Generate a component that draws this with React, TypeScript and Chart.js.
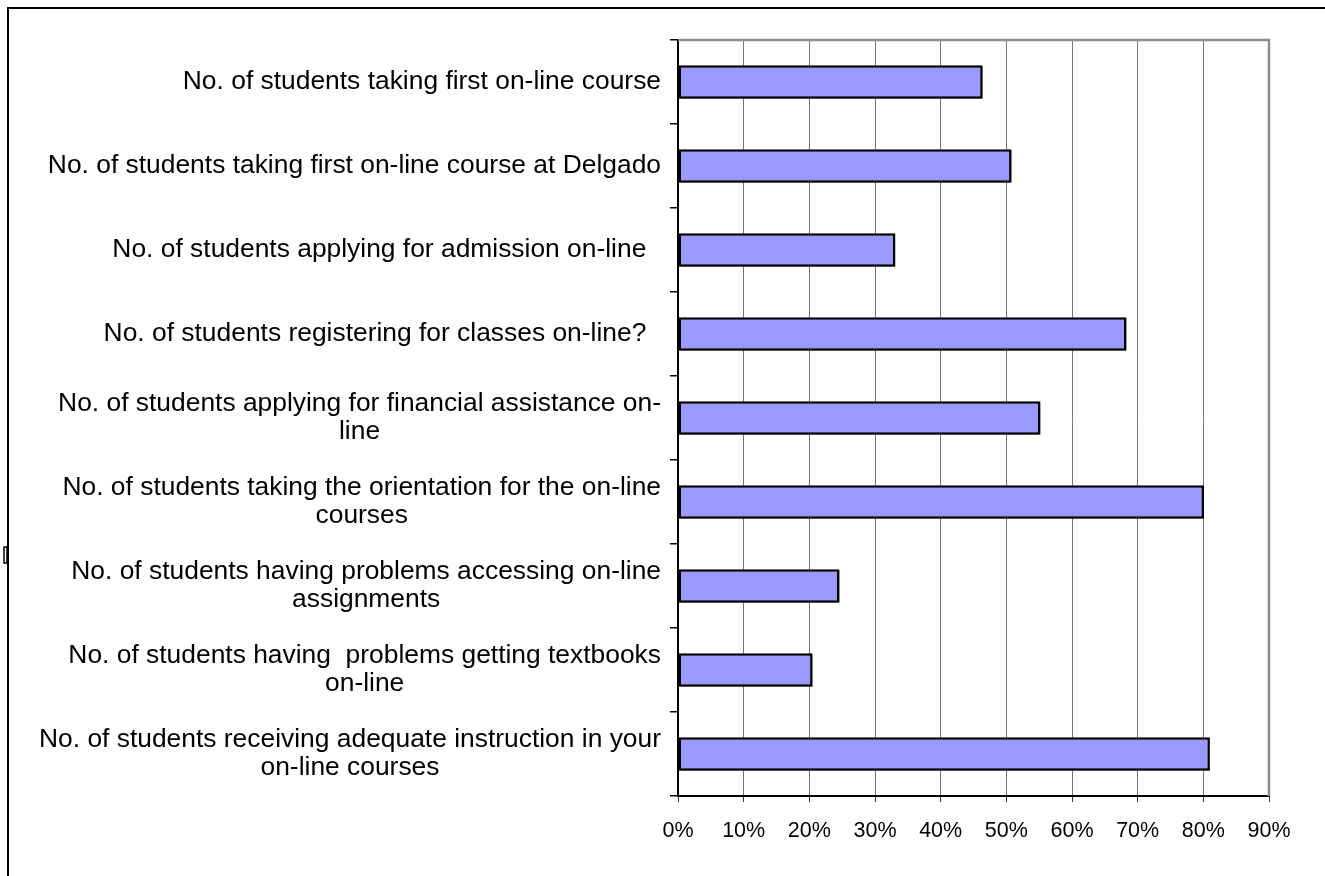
import React, { useEffect, useRef } from "react";
import { Chart, registerables } from "chart.js";

Chart.register(...registerables);

const categoryLabels: string[][] = [
  ["No. of students taking first on-line course"],
  ["No. of students taking first on-line course at Delgado"],
  ["No. of students applying for admission on-line  "],
  ["No. of students registering for classes on-line?  "],
  ["No. of students applying for financial assistance on-", "line"],
  ["No. of students taking the orientation for the on-line", "courses"],
  ["No. of students having problems accessing on-line", "assignments"],
  ["No. of students having  problems getting textbooks", "on-line"],
  ["No. of students receiving adequate instruction in your", "on-line courses"],
];

const percentValues: number[] = [46.4, 50.8, 33.1, 68.3, 55.2, 80.1, 24.6, 20.5, 81.0];

const xTickMax = 90;
const xTickStep = 10;

const FONT = '"Liberation Sans", Arial, sans-serif';

export default function App() {
  const ref = useRef<HTMLCanvasElement | null>(null);

  useEffect(() => {
    const canvas = ref.current;
    if (!canvas) return;

    const framePlugin = {
      id: "frame",
      beforeDraw(chart: any) {
        const ctx = chart.ctx;
        ctx.save();
        ctx.strokeStyle = "#000";
        ctx.lineWidth = 2;
        ctx.beginPath();
        ctx.moveTo(8, 876);
        ctx.lineTo(8, 8);
        ctx.lineTo(1325, 8);
        ctx.stroke();
        ctx.lineWidth = 1.5;
        ctx.strokeRect(4, 547, 3, 16);
        ctx.restore();
      },
      beforeDatasetsDraw(chart: any) {
        const ctx = chart.ctx;
        ctx.save();
        ctx.shadowColor = "rgba(0,0,0,0.35)";
        ctx.shadowOffsetX = 1.5;
        ctx.shadowOffsetY = 1.5;
        ctx.shadowBlur = 1;
      },
      afterDatasetsDraw(chart: any) {
        chart.ctx.restore();
      },
      afterDraw(chart: any) {
        const ctx = chart.ctx;
        const { top, right, left, bottom } = chart.chartArea;
        ctx.save();
        ctx.strokeStyle = "#8c8c8c";
        ctx.lineWidth = 2.5;
        ctx.beginPath();
        ctx.moveTo(left, top);
        ctx.lineTo(right, top);
        ctx.lineTo(right, bottom);
        ctx.stroke();

        const yScale = chart.scales.y;
        ctx.fillStyle = "#000";
        ctx.font = `26.4px ${FONT}`;
        ctx.textAlign = "center";
        ctx.textBaseline = "middle";
        const rightEdge = yScale.right - 17;
        const lineH = 28;
        categoryLabels.forEach((lines, i) => {
          const cy = yScale.getPixelForValue(i);
          let w = 0;
          lines.forEach((l) => {
            w = Math.max(w, ctx.measureText(l).width);
          });
          const cx = rightEdge - w / 2;
          lines.forEach((l, j) => {
            ctx.fillText(l, cx, cy + (j - (lines.length - 1) / 2) * lineH);
          });
        });
        ctx.restore();
      },
    };

    const chart = new Chart(canvas, {
      type: "bar",
      data: {
        labels: categoryLabels.map((l) => l.join(" ")),
        datasets: [
          {
            data: percentValues,
            backgroundColor: "#9999FF",
            borderColor: "#000",
            borderWidth: 2.5,
            borderSkipped: false,
            barPercentage: 0.4,
            categoryPercentage: 1,
          },
        ],
      },
      options: {
        indexAxis: "y",
        animation: false,
        responsive: false,
        devicePixelRatio: 1,
        layout: { padding: { top: 40, right: 56, left: 0, bottom: 0 } },
        plugins: {
          legend: { display: false },
          tooltip: { enabled: false },
        },
        scales: {
          x: {
            type: "linear",
            min: 0,
            max: xTickMax,
            ticks: {
              stepSize: xTickStep,
              callback: (v: any) => `${v}%`,
              color: "#000",
              font: { family: FONT, size: 21.5 },
              padding: 16,
            },
            grid: {
              color: "#777",
              lineWidth: 1,
              tickLength: 6,
              tickColor: "#333",
            },
            border: { display: true, color: "#000", width: 2 },
            afterFit: (s: any) => {
              s.height = 80;
            },
          },
          y: {
            ticks: { display: false },
            grid: {
              drawOnChartArea: false,
              drawTicks: true,
              tickLength: 8,
              tickColor: "#000",
              lineWidth: 1.5,
              offset: true,
            },
            border: { display: true, color: "#000", width: 2 },
            afterFit: (s: any) => {
              s.width = 678;
            },
          },
        },
      },
      plugins: [framePlugin],
    } as any);

    return () => chart.destroy();
  }, []);

  return (
    <canvas
      ref={ref}
      width={1325}
      height={876}
      style={{ position: "absolute", left: 0, top: 0, width: 1325, height: 876 }}
    />
  );
}
